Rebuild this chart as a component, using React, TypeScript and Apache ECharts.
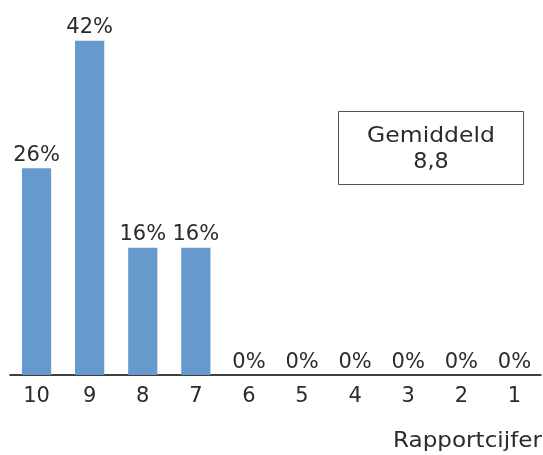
import React, { useEffect, useRef } from "react";
import * as echarts from "echarts";

const categories = ["10", "9", "8", "7", "6", "5", "4", "3", "2", "1"];
const percentages = [26, 42, 16, 16, 0, 0, 0, 0, 0, 0];
const averageLabel = "Gemiddeld";
const averageValue = "8,8";
const axisTitle = "Rapportcijfer";

const FONT = "'DejaVu Sans', sans-serif";
const TEXT = "#2b2b2b";

export default function App() {
  const ref = useRef<HTMLDivElement>(null);
  useEffect(() => {
    if (!ref.current) return;
    const chart = echarts.init(ref.current, undefined, { renderer: "svg" });
    chart.setOption({
      animation: false,
      grid: { left: 10, right: 2, top: 17, bottom: 80, containLabel: false },
      xAxis: {
        type: "category",
        data: categories,
        axisLine: { lineStyle: { color: "#000", width: 1.5 } },
        axisTick: { show: false },
        axisLabel: { color: TEXT, fontSize: 21, fontFamily: FONT, margin: 9 },
      },
      yAxis: {
        type: "value",
        min: 0,
        max: 45,
        show: false,
        splitLine: { show: false },
      },
      series: [
        {
          type: "bar",
          data: percentages,
          barWidth: "55%",
          itemStyle: { color: "#6699CC" },
          label: {
            show: true,
            position: "top",
            distance: 4,
            formatter: "{c}%",
            color: TEXT,
            fontSize: 21,
            fontFamily: FONT,
          },
        },
      ],
      graphic: [
        {
          type: "rect",
          shape: { x: 338.5, y: 111.5, width: 185, height: 73 },
          style: { fill: "#fff", stroke: "#44546A", lineWidth: 1 },
        },
        {
          type: "text",
          x: 431,
          y: 134,
          scaleX: 1.12,
          style: {
            text: averageLabel,
            fill: TEXT,
            font: `21px ${FONT}`,
            textAlign: "center",
            textVerticalAlign: "middle",
          },
        },
        {
          type: "text",
          x: 431,
          y: 161,
          scaleX: 1.06,
          style: {
            text: averageValue,
            fill: TEXT,
            font: `21px ${FONT}`,
            textAlign: "center",
            textVerticalAlign: "middle",
          },
        },
        {
          type: "text",
          x: 542,
          y: 440,
          scaleX: 1.1,
          style: {
            text: axisTitle,
            fill: TEXT,
            font: `21px ${FONT}`,
            textAlign: "right",
            textVerticalAlign: "middle",
          },
        },
      ],
    });
    return () => chart.dispose();
  }, []);
  return (
    <div
      ref={ref}
      style={{ position: "fixed", left: 0, top: 0, width: 543, height: 455 }}
    />
  );
}
